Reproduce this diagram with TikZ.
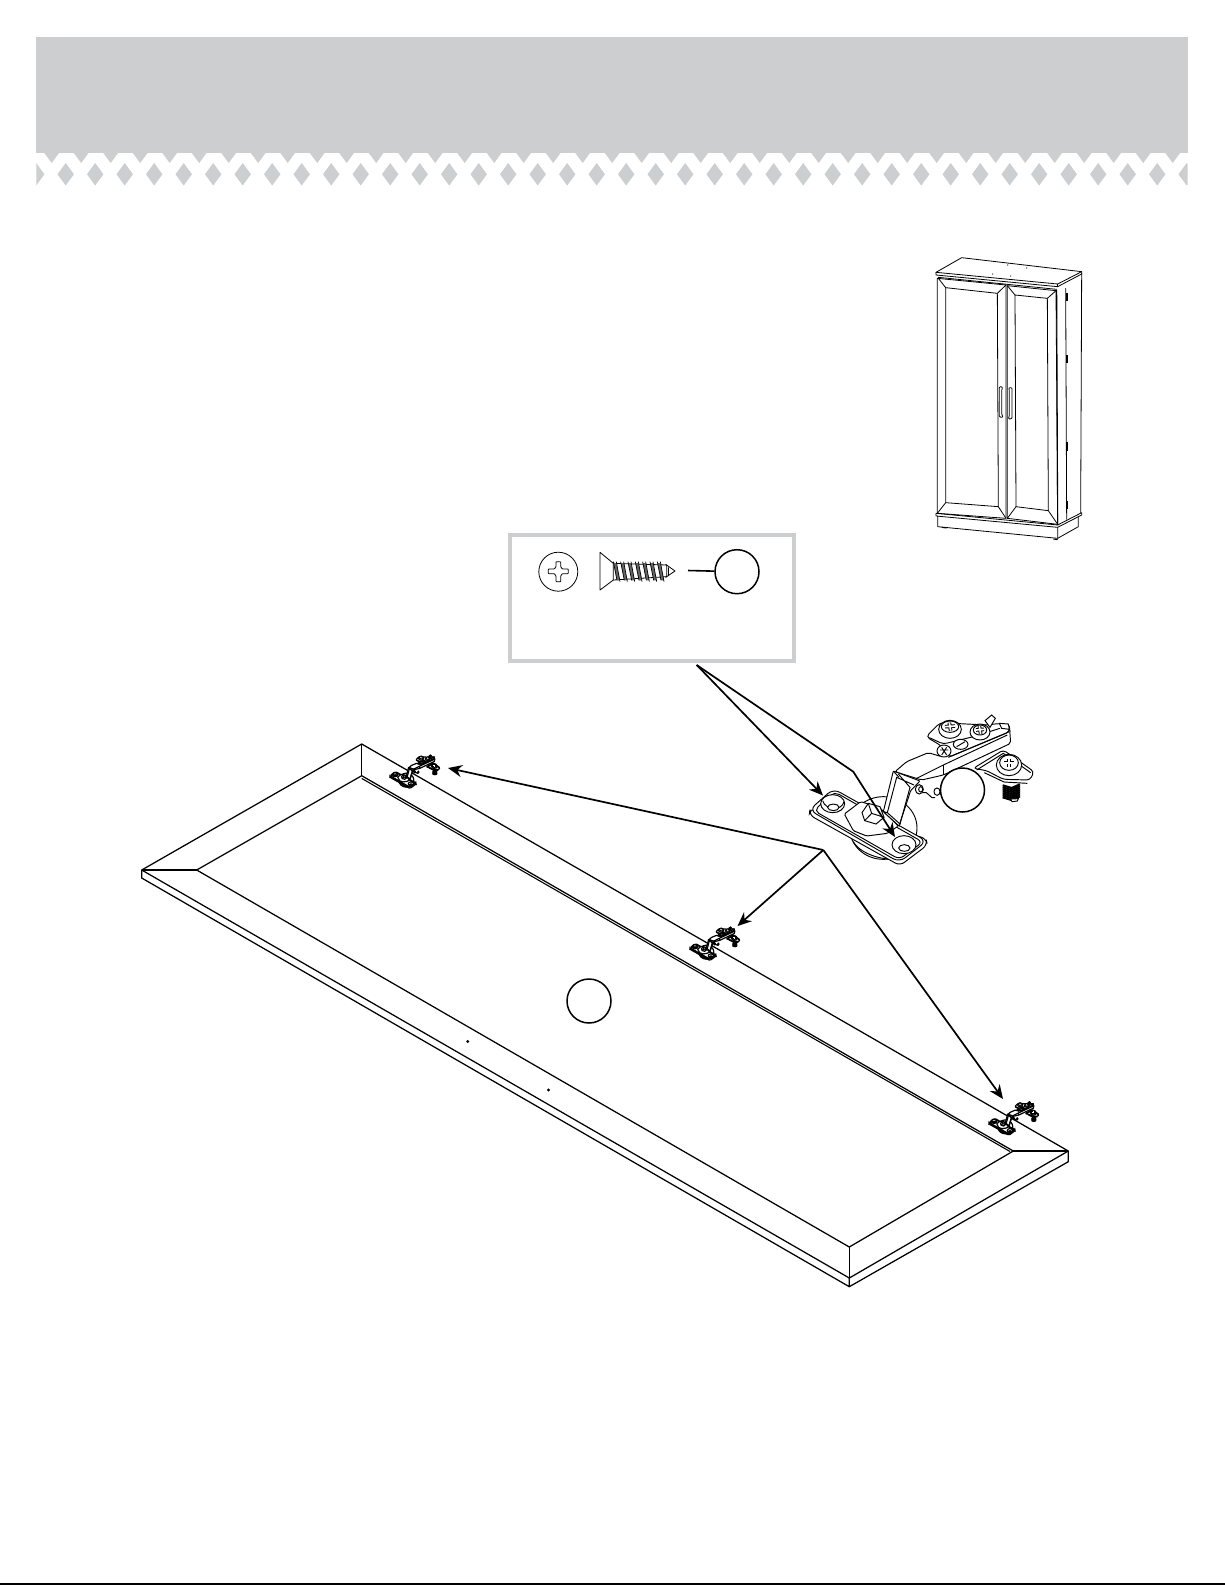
\documentclass[tikz,border=0pt]{standalone}
\usetikzlibrary{arrows.meta}
\definecolor{bandgrey}{HTML}{CDCECF}
\newcommand{\hk}{0.3333}
\tikzset{
  x=1pt,y=-1pt,
  panelline/.style={line width=1.25pt,line join=round},
  thinline/.style={line width=0.8pt,line join=round,line cap=round},
  callout/.style={line width=1.7pt,line join=miter,-{Stealth[length=14pt,width=12pt]}},
  refcircle/.style={circle,draw=black,line width=1.5pt,fill=white,minimum size=44pt,inner sep=0pt},
  hinge/.pic={
    % cup underneath
    \draw[fill=white] (250,384) ellipse[x radius=101,y radius=94];
    \draw (160,425) .. controls (185,470) and (280,490) .. (320,470);
    % lower right plate and screw
    \draw[fill=white,rounded corners=\hk*10] (520,205) -- (610,150) -- (702,215) -- (690,240) -- (610,238) -- (560,212) -- cycle;
    \draw (530,210) -- (610,160) -- (692,218);
    \draw (553,218) -- (612,246) -- (682,250);
    \foreach \yy in {256,262,268,274,280,286,292}{\draw[line width=1.5*\pgflinewidth] (608,\yy) -- (635,\yy+8) -- (660,\yy-3);}
    \draw[fill=white] (632,297) -- (655,296) -- (652,303) -- (636,305) -- cycle;
    \draw[fill=white] (627,195) ellipse[x radius=38,y radius=32];
    \draw[fill=white] (627,188) ellipse[x radius=28,y radius=23];
    \draw[double,double distance=\hk*5pt] (612,188) -- (642,188) (627,176) -- (627,200);
    % upper arm body
    \draw[fill=white,rounded corners=\hk*6] (285,215) -- (320,185) -- (385,158) -- (425,170) -- (628,75) -- (632,130) -- (430,225) -- (365,240) -- cycle;
    \draw (348,236) -- (430,195) -- (622,105);
    \draw (430,195) -- (430,225);
    % upper plate
    \draw[fill=white,rounded corners=\hk*12] (378,110) -- (420,68) -- (560,75) -- (600,70) -- (625,75) -- (630,95) -- (445,172) -- (425,138) -- cycle;
    \draw[rounded corners=\hk*10] (388,113) -- (430,132) -- (520,110) -- (600,85);
    \draw (445,172) -- (628,95);
    % tab
    \draw[fill=white] (555,62) -- (575,45) -- (586,55) -- (570,82) -- cycle;
    \draw[fill=white] (598,70) -- (625,72) -- (628,88) -- (605,85) -- cycle;
    % screws of upper plate
    \draw[fill=white] (450,88) ellipse[x radius=34,y radius=27];
    \draw[fill=white] (450,80) ellipse[x radius=26,y radius=17];
    \draw[double,double distance=\hk*5pt] (435,80) -- (465,78) (448,68) -- (452,92);
    \draw[fill=white] (540,96) ellipse[x radius=30,y radius=24];
    \draw[fill=white] (540,90) ellipse[x radius=20,y radius=15];
    \draw[double,double distance=\hk*5pt] (528,90) -- (552,88) (538,78) -- (542,102);
    \draw[fill=white] (482,133) ellipse[x radius=22,y radius=15];
    \draw (470,140) -- (495,125);
    \draw[fill=white] (432,153) ellipse[x radius=21,y radius=18];
    \draw (420,150) -- (445,150) (425,142) -- (440,165) (440,142) -- (425,165);
    % pivot arm
    \draw[fill=white,rounded corners=\hk*3] (250,335) -- (280,213) -- (360,243) -- (332,272) -- (297,378) -- cycle;
    \draw (262,338) -- (290,232) -- (342,255) (295,222) -- (330,262) -- (300,372);
    \draw (280,213) -- (297,232);
    % knuckle
    \draw[fill=white] (358,268) ellipse[x radius=12,y radius=14];
    \draw[fill=white] (362,268) ellipse[x radius=6,y radius=8];
    \draw (368,278) .. controls (385,270) and (390,300) .. (405,293);
    \draw[fill=white] (411,275) ellipse[x radius=9,y radius=11];
    % base plate thickness and face
    \draw[fill=white,rounded corners=\hk*16] (30,325) -- (28,345) -- (300,497) -- (382,435) -- (378,415) -- cycle;
    \draw[fill=white,rounded corners=\hk*22] (100,266) -- (380,423) -- (298,487) -- (28,330) -- cycle;
    \draw[rounded corners=\hk*16] (103,275) -- (368,426) -- (298,478) -- (42,332) -- cycle;
    % cup recess
    \draw[fill=white,rounded corners=\hk*4] (133,342) -- (182,305) -- (238,322) -- (295,378) -- (262,400) -- (200,408) -- (160,392) -- cycle;
    \draw[fill=white] (186,338) -- (205,310) -- (240,320) -- (252,352) -- (228,372) -- (194,362) -- cycle;
    \draw (205,310) -- (215,340) -- (252,352) (215,340) -- (194,362);
    % arm foot over the recess
    \draw[fill=white] (250,335) -- (262,338) -- (300,372) -- (297,378) -- cycle;
    % holes
    \draw[fill=white] (98,311) ellipse[x radius=36,y radius=27];
    \draw (68,302) .. controls (75,330) and (125,335) .. (132,305);
    \draw[fill=white] (100,322) ellipse[x radius=17,y radius=10];
    \draw[fill=white] (312,434) ellipse[x radius=36,y radius=27];
    \draw[fill=white] (313,444) ellipse[x radius=17,y radius=10];
  }
}
\begin{document}
\begin{tikzpicture}
\useasboundingbox[fill=white] (0,0) rectangle (1225,1585);
% header band
\fill[bandgrey] (36.4,37) rectangle (1187.6,153);
\begin{scope}
  \clip (36.4,150) rectangle (1187.6,190);
  \foreach \k in {0,...,39}{
    \fill[bandgrey] ({36.2+29.5*\k},163) -- ({44.4+29.5*\k},174.3) -- ({36.2+29.5*\k},185.5) -- ({28+29.5*\k},174.3) -- cycle;
    \fill[bandgrey] ({44.3+29.5*\k},153) -- ({51.7+29.5*\k},163) -- ({59+29.5*\k},153) -- cycle;
  }
\end{scope}
% footer rule
\fill[black] (0,1583.2) rectangle (1225,1585);
% cabinet
\begin{scope}[shift={(910,240)},scale=1/3]
  \draw[thinline] (78,97) -- (155,53) -- (515,95) -- (443,132) -- cycle;
  \draw[thinline] (78,97) -- (78,105) -- (443,140) -- (515,102) -- (515,95);
  \draw[thinline] (443,132) -- (443,140);
  \draw[thinline] (82,115) -- (288,135) -- (288,835) -- (82,820) -- cycle;
  \draw[thinline] (85,112) -- (440,148);
  \draw[thinline] (107,143) -- (262,160) -- (265,800) -- (107,788) -- cycle;
  \draw[thinline] (85,115) -- (107,143) (288,135) -- (262,160) (288,835) -- (265,800) (82,820) -- (107,788);
  \draw[thinline] (292,137) -- (438,152) -- (443,853) -- (292,835) -- cycle;
  \draw[thinline] (315,165) -- (412,175) -- (415,812) -- (318,800) -- cycle;
  \draw[thinline] (292,137) -- (315,165) (438,152) -- (412,175) (443,853) -- (415,812) (292,835) -- (318,800);
  \draw[line width=1.1pt] (440,150) -- (443,855);
  \draw[thinline] (467,145) -- (470,838);
  \draw[thinline] (515,100) -- (512,818);
  \draw[thinline] (78,820) -- (78,828) -- (443,862) -- (515,825) -- (515,818) -- (443,855) -- (78,820);
  \draw[thinline] (83,828) -- (83,860) -- (443,895) -- (443,862);
  \draw[thinline] (443,895) -- (505,860) -- (505,830);
  \draw[line width=1pt] (95,862) -- (110,864) (430,897) -- (443,899);
  \draw[thinline,rounded corners=1] (268,440) -- (278,441) -- (275,450) -- (275,522) -- (279,532) -- (268,531) -- cycle;
  \draw[thinline,rounded corners=1] (306,443) -- (296,443) -- (298,452) -- (298,527) -- (295,537) -- (306,536) -- cycle;
  \foreach \a/\b in {160/182,345/368,605/632,782/806}{\draw[line width=1.5pt] (471,\a) -- (471,\b);}
  \foreach \px/\py in {248/102,302/108,293/75,350/84}{\fill (\px,\py) circle[radius=2];}
\end{scope}
% fitting box
\draw[bandgrey,line width=3.6pt] (510,535) rectangle (793.8,661);
\coordinate (boxexit) at (696.7,665);
% screw head
\draw[thinline] (558.3,571.7) circle[radius=19.5];
\begin{scope}[shift={(500,525)},scale=1/3]
  \draw[thinline,rounded corners=0.6] (168,110) -- (182,110) -- (182,125) -- (187,132) -- (205,132) -- (205,146) -- (187,146) -- (182,153) -- (182,170) -- (168,170) -- (168,153) -- (163,146) -- (145,146) -- (145,132) -- (163,132) -- (168,125) -- cycle;
  \draw[thinline] (300,82) -- (300,195) -- (340,165) -- (340,115) -- cycle;
  \draw[thinline] (340,115) -- (500,120) -- (500,155) -- (340,165);
  \foreach \tx in {340,362,384,406,428,450,472}{
    \fill[black!60] (\tx,114) -- (\tx+9,114) -- (\tx+20,166) -- (\tx+11,166) -- cycle;
    \draw[line width=0.7pt] (\tx,110) -- (\tx+11,166) (\tx+9,110) -- (\tx+20,170);
  }
  \draw[thinline] (497,118) -- (525,138) -- (497,157);
  \draw[thinline] (505,128) -- (505,152);
\end{scope}
\node[refcircle] (screwref) at (737,571.7) {};
\coordinate (screwline) at (688,570.5);
\draw[line width=1.6pt] (screwline) -- (screwref);
% door panel
\coordinate (pL) at (141.7,870);
\coordinate (pT) at (361.7,744);
\coordinate (pR) at (1068.3,1151);
\coordinate (pF) at (849.3,1278);
\coordinate (iL) at (196.7,870);
\coordinate (iT) at (361.7,775.7);
\coordinate (iR) at (1013.3,1151);
\coordinate (iF) at (849.3,1247);
\coordinate (bL) at (141.7,878);
\coordinate (bF) at (849.3,1286.7);
\coordinate (bR) at (1068.3,1161.7);
\draw[panelline] (pL) -- (pT) -- (pR) -- (pF) -- cycle;
\draw[panelline] (iL) -- (iT) -- (iR) -- (iF) -- cycle;
\draw[panelline] (pL) -- (iL) (pT) -- (iT) (pR) -- (iR) (pF) -- (iF);
\draw[panelline] (pL) -- (bL) -- (bF) -- (bR) -- (pR) (pF) -- (bF);
\draw[line width=1.1pt] (361.7,778.4) -- (1010,1151.5);
\foreach \px/\py in {467.7/1041.5,548.5/1090}{\fill (\px,\py) circle[radius=1.6];}
\node[refcircle] (doorref) at (589,1001) {};
% hinges
\renewcommand{\hk}{0.0741}
\pic[scale=0.0741,line width=1.2pt] at (387.8,751.7) {hinge};
\pic[scale=0.0741,line width=1.2pt] at (687.8,923.7) {hinge};
\pic[scale=0.0741,line width=1.2pt] at (986.8,1098.4) {hinge};
\renewcommand{\hk}{0.3333}
\pic[scale=1/3,line width=0.95pt] at (800,700) {hinge};
\node[refcircle] (hingeref) at (962.5,790) {};
% callouts
\coordinate (a1) at (823,795.5);
\coordinate (kink) at (853.3,771.7);
\coordinate (a2) at (895,837);
\coordinate (apex) at (823.3,850);
\coordinate (t1) at (448,768);
\coordinate (t2) at (737.5,926);
\coordinate (t3) at (1003,1099);
\draw[callout] (boxexit) -- (a1);
\draw[callout] (boxexit) -- (kink) -- (a2);
\draw[callout] (apex) -- (t1);
\draw[callout] (apex) -- (t2);
\draw[callout] (apex) -- (t3);
\end{tikzpicture}
\end{document}
